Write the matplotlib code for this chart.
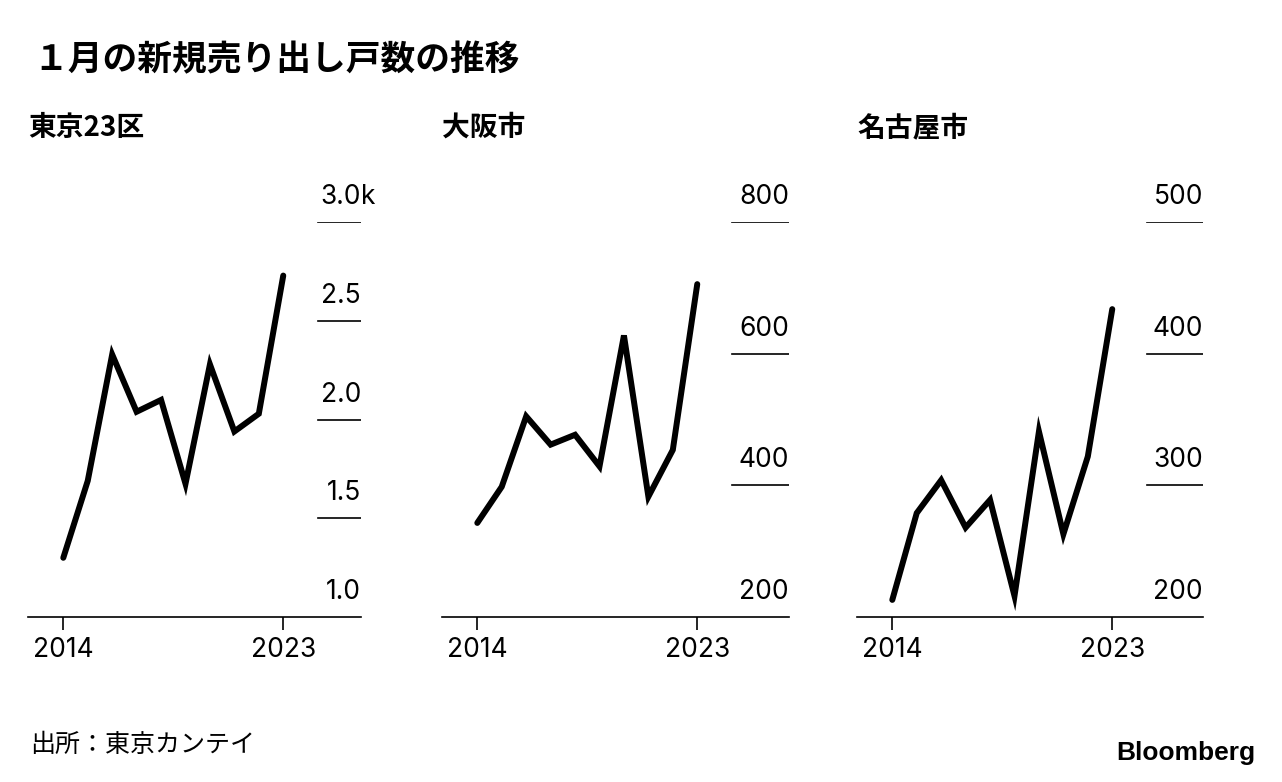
import matplotlib
matplotlib.use('Agg')
import matplotlib.pyplot as plt
import matplotlib.transforms as mtransforms

plt.rcParams['font.family'] = ['Inter', 'Noto Sans CJK JP', 'DejaVu Sans']

years = list(range(2014, 2024))

tokyo = [1.30, 1.69, 2.33, 2.04, 2.10, 1.675, 2.28, 1.94, 2.03, 2.73]   # 千戸
osaka = [343, 398, 505, 462, 477, 429, 628, 383, 454, 706]
nagoya = [213, 279, 304, 268, 289, 216, 341, 263, 322, 434]

titles = ['東京23区', '大阪市', '名古屋市']
series = [tokyo, osaka, nagoya]
yticks = [[1.0, 1.5, 2.0, 2.5, 3.0], [200, 400, 600, 800], [200, 300, 400, 500]]
ylabels = [['1.0', '1.5', '2.0', '2.5', '3.0'], ['200', '400', '600', '800'], ['200', '300', '400', '500']]

W, H = 1282, 782
fig = plt.figure(figsize=(W/100, H/100), dpi=100)

# pixel layout: (left, right, grid length)
panels = [(28, 361, 43), (442, 789, 57), (857, 1203, 56)]
top, bottom = 222.3, 617
px_per_year = 24.44
first_off = 35.3
tick_fs = 19

for i, (l, r, glen) in enumerate(panels):
    ax = fig.add_axes([l/W, (H-bottom)/H, (r-l)/W, (bottom-top)/H])
    width = r - l
    ax.set_xlim(2014 - first_off/px_per_year, 2014 + (width-first_off)/px_per_year)
    ax.set_ylim(yticks[i][0], yticks[i][-1])
    ax.plot(years, series[i], color='black', lw=4.3, solid_joinstyle='miter',
            solid_capstyle='round', clip_on=False, zorder=3)

    for s in ['top', 'left', 'right']:
        ax.spines[s].set_visible(False)
    ax.spines['bottom'].set_linewidth(1.2)
    ax.set_yticks([])
    ax.set_xticks([2014, 2023])
    ax.set_xticklabels(['2014', '2023'], fontsize=tick_fs)
    ax.tick_params(axis='x', length=9.5, width=1.2, pad=5)

    trans = mtransforms.blended_transform_factory(ax.transAxes, ax.transData)
    off = mtransforms.offset_copy(trans, fig=fig, y=13, units='points')
    for v, lab in zip(yticks[i], ylabels[i]):
        if v != yticks[i][0]:
            ax.axhline(v, xmin=1 - glen/width, xmax=1, color='black', lw=1.2)
        ax.text(1.0, v, lab, transform=off, ha='right', va='baseline', fontsize=tick_fs)
        if i == 0 and v == yticks[i][-1]:
            ax.text(1.0, v, 'k', transform=off, ha='left', va='baseline', fontsize=tick_fs)

    fig.text(l/W, 1 - 128/H, titles[i], fontsize=20, fontweight='bold',
             ha='left', va='center', family=['Noto Sans CJK JP'])

fig.text(33/W, 1 - 60/H, '１月の新規売り出し戸数の推移', fontsize=25, fontweight='bold',
         ha='left', va='center', family=['Noto Sans CJK JP'])
fig.text(30/W, 1 - 745/H, '出所：東京カンテイ', fontsize=18, ha='left', va='center',
         family=['Noto Sans CJK JP'])
fig.text(1255/W, 1 - 760/H, 'Bloomberg', fontsize=19, fontweight='bold', ha='right',
         va='baseline', family=['Liberation Sans'])

fig.savefig('out.png', dpi=100)
